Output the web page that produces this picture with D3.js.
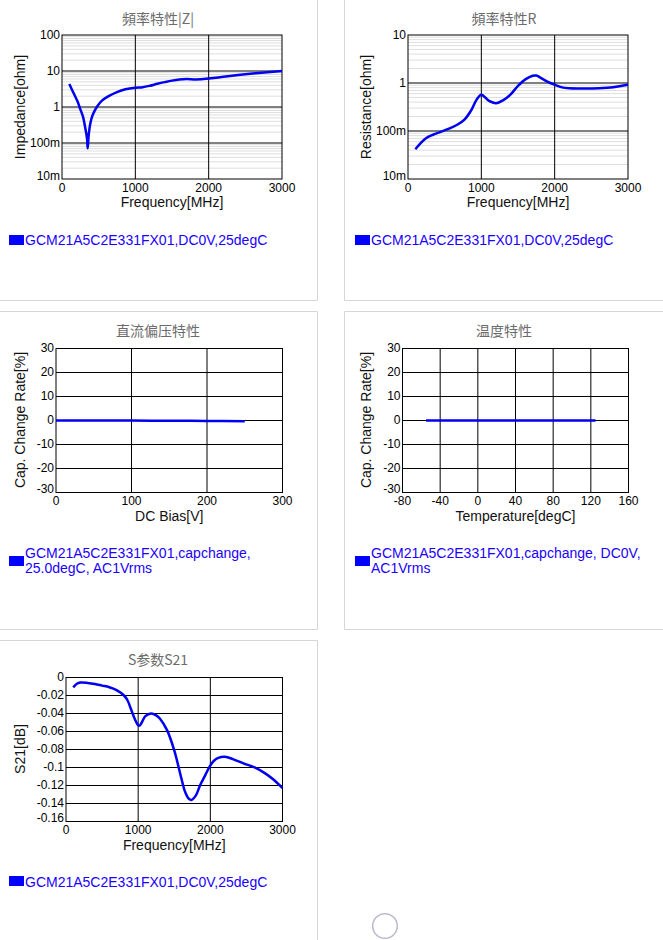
<!DOCTYPE html>
<meta charset="utf-8">
<style>
  html, body { margin: 0; background: #fff; overflow: hidden; }
  text { font-family: "Liberation Sans", Arial, sans-serif; }
  .title { font-family: "Noto Sans CJK SC", "Liberation Sans", sans-serif; font-size: 14px; fill: #6b6b6b; text-anchor: middle; }
  .axis-title { font-size: 14px; fill: #111; text-anchor: middle; }
  .legend { font-size: 14px; fill: #1a00ff; }
  .tick text { font-family: "Liberation Sans", Arial, sans-serif; font-size: 12px; fill: #000; }
</style>
<div id="chart"></div>
<script src="https://d3js.org/d3.v7.min.js"></script>
<script>
// values

var zFreq = [100, 159, 214, 250, 286, 318, 341, 350, 364, 386, 418, 477, 545, 636, 750, 864, 1000, 1100, 1200, 1300, 1400, 1500, 1600, 1700, 1800, 1900, 2000, 2200, 2400, 2600, 2800, 3000];
var zOhm = [4.35, 2.4, 1.4, 0.86, 0.54, 0.257, 0.135, 0.071, 0.166, 0.35, 0.6, 1.02, 1.5, 2.0, 2.6, 3.1, 3.44, 3.55, 3.9, 4.4, 4.9, 5.4, 5.8, 5.95, 5.85, 5.9, 6.2, 6.9, 7.7, 8.5, 9.3, 10];

var rFreq = [100, 182, 250, 341, 455, 568, 682, 773, 864, 932, 1000, 1100, 1200, 1300, 1400, 1500, 1600, 1700, 1750, 1800, 1900, 2000, 2100, 2200, 2400, 2600, 2800, 3000];
var rOhm = [0.0415, 0.058, 0.0715, 0.0835, 0.097, 0.1135, 0.138, 0.175, 0.274, 0.44, 0.57, 0.43, 0.38, 0.44, 0.58, 0.87, 1.19, 1.42, 1.43, 1.31, 1.07, 0.92, 0.81, 0.775, 0.77, 0.78, 0.82, 0.92];

var dcVolt = [0, 50, 100, 150, 200, 250];
var dcRate = [0, -0.02, -0.05, -0.1, -0.2, -0.35];

var tempDeg = [-55, -25, 0, 25, 50, 85, 125];
var tempRate = [-0.05, -0.04, 0, 0, -0.01, -0.03, -0.05];

var sFreq = [100, 150, 200, 300, 400, 500, 600, 700, 800, 850, 900, 950, 1000, 1020, 1050, 1100, 1180, 1250, 1300, 1400, 1500, 1600, 1650, 1700, 1740, 1800, 1860, 1930, 1990, 2050, 2110, 2200, 2320, 2460, 2620, 2760, 2870, 3000];
var sDb = [-0.011, -0.007, -0.0056, -0.006, -0.0072, -0.009, -0.0108, -0.014, -0.0197, -0.025, -0.035, -0.0455, -0.053, -0.0535, -0.05, -0.043, -0.04, -0.042, -0.0455, -0.0585, -0.081, -0.1125, -0.127, -0.1345, -0.136, -0.131, -0.1194, -0.1085, -0.099, -0.0925, -0.0893, -0.088, -0.0909, -0.0954, -0.1002, -0.1065, -0.1131, -0.1228];

var freqTicks = [0, 1000, 2000, 3000];
var zDecades = [0.01, 0.1, 1, 10, 100];
var zLabels = ["10m", "100m", "1", "10", "100"];
var rDecades = [0.01, 0.1, 1, 10];
var rLabels = ["10m", "100m", "1", "10"];
var rateTicks = [-30, -20, -10, 0, 10, 20, 30];
var dcTicks = [0, 100, 200, 300];
var tempTicks = [-80, -40, 0, 40, 80, 120, 160];
var sTicks = [-0.16, -0.14, -0.12, -0.1, -0.08, -0.06, -0.04, -0.02, 0];

var legendFreq = ["GCM21A5C2E331FX01,DC0V,25degC"];
var legendDc = ["GCM21A5C2E331FX01,capchange,", "25.0degC, AC1Vrms"];
var legendTemp = ["GCM21A5C2E331FX01,capchange, DC0V,", "AC1Vrms"];

var svg = d3.select("#chart").append("svg")
  .attr("width", 663)
  .attr("height", 940)
  .style("display", "block");

//----------------panel borders---------------------
var borders = svg.append("g").attr("stroke", "#d6d6d6").attr("fill", "none");
borders.append("path").attr("d", "M0,300.5H317.5V0");
borders.append("path").attr("d", "M344.5,0V300.5H663");
borders.append("path").attr("d", "M0,311.5H317.5V629.5H0");
borders.append("path").attr("d", "M663,311.5H344.5V629.5H663");
borders.append("path").attr("d", "M0,640.5H317.5V940");

//----------------drawing stuff---------------------
function drawChart(c) {
  var xs = d3.scaleLinear().domain(c.xDomain).range([c.left, c.right]);
  var ys = (c.log ? d3.scaleLog() : d3.scaleLinear()).domain(c.yDomain).range([c.bottom, c.top]);
  var g = svg.append("g");
  var h = c.bottom - c.top, w = c.right - c.left;

  // light lines between the decades
  if (c.log) {
    var minor = [];
    c.yTicks.slice(0, -1).forEach(function(d) {
      d3.range(2, 10).forEach(function(m) { minor.push(d * m); });
    });
    g.selectAll(".minor").data(minor).enter().append("line")
      .attr("x1", c.left).attr("x2", c.right)
      .attr("y1", function(d) { return ys(d); })
      .attr("y2", function(d) { return ys(d); })
      .attr("stroke", "#dedede")
      .attr("stroke-width", 1);
  }

  // offset 0 so a line between two pixels goes grey and wide, as in the picture
  var xAxis = g.append("g")
    .attr("transform", "translate(0," + c.bottom + ")")
    .call(d3.axisBottom(xs).offset(0).tickValues(c.xTicks).tickSize(-h).tickPadding(4).tickFormat(String));
  var yAxis = g.append("g")
    .attr("transform", "translate(" + c.left + ",0)")
    .call(d3.axisLeft(ys).offset(0).tickValues(c.yTicks).tickSize(-w).tickPadding(2)
      .tickFormat(function(d, i) { return c.yLabels[i]; }));

  xAxis.select(".domain").remove();
  yAxis.select(".domain").remove();
  xAxis.selectAll("line").attr("stroke", "#000").attr("stroke-width", 1);
  yAxis.selectAll("line").attr("stroke", "#000").attr("stroke-width", 1);
  // frame below draws the outer lines, do not darken them twice
  xAxis.selectAll("line").filter(function(d) { return d == c.xDomain[0] || d == c.xDomain[1]; }).remove();
  yAxis.selectAll("line").filter(function(d) { return d == c.yDomain[0] || d == c.yDomain[1]; }).remove();
  // lowest label sits a little above its line
  yAxis.selectAll("text").attr("dy", function(d, i) { return i == 0 ? "0.08em" : "0.32em"; });

  g.append("rect")
    .attr("x", c.left).attr("y", c.top)
    .attr("width", w).attr("height", h)
    .attr("fill", "none")
    .attr("stroke", "#000")
    .attr("stroke-width", 1);

  var line = d3.line()
    .x(function(d) { return xs(d[0]); })
    .y(function(d) { return ys(d[1]); })
    .curve(d3.curveCatmullRom.alpha(0.5));
  g.append("path")
    .attr("d", line(d3.zip(c.xs, c.ys)))
    .attr("fill", "none")
    .attr("stroke", "#0000f0")
    .attr("stroke-width", 2.5);

  g.append("text").attr("class", "title")
    .attr("x", c.titleX).attr("y", c.titleY).text(c.title);
  g.append("text").attr("class", "axis-title")
    .attr("x", (c.left + c.right) / 2).attr("y", c.titleXY).text(c.xTitle);
  g.append("text").attr("class", "axis-title")
    .attr("transform", "translate(" + (c.panelX + 25) + "," + c.yTitleY + ") rotate(-90)")
    .text(c.yTitle);

  // legend
  g.append("rect")
    .attr("x", c.panelX + 9).attr("y", c.swatchY)
    .attr("width", 15).attr("height", 10)
    .attr("fill", "#0000ff");
  c.legend.forEach(function(t, i) {
    g.append("text").attr("class", "legend")
      .attr("x", c.panelX + 25).attr("y", c.legendY + i * 15).text(t);
  });
}

drawChart({ title: "頻率特性|Z|", titleX: 158, titleY: 24, panelX: 0, left: 62, right: 282, top: 35, bottom: 179,
  xDomain: [0, 3000], yDomain: [0.01, 100], log: true, xTicks: freqTicks, yTicks: zDecades, yLabels: zLabels,
  xs: zFreq, ys: zOhm, xTitle: "Frequency[MHz]", titleXY: 207, yTitle: "Impedance[ohm]", yTitleY: 107, legend: legendFreq, legendY: 245, swatchY: 235 });

drawChart({ title: "頻率特性R", titleX: 504, titleY: 24, panelX: 346, left: 408, right: 628, top: 35, bottom: 179,
  xDomain: [0, 3000], yDomain: [0.01, 10], log: true, xTicks: freqTicks, yTicks: rDecades, yLabels: rLabels,
  xs: rFreq, ys: rOhm, xTitle: "Frequency[MHz]", titleXY: 207, yTitle: "Resistance[ohm]", yTitleY: 107, legend: legendFreq, legendY: 245, swatchY: 235 });

drawChart({ title: "直流偏压特性", titleX: 158, titleY: 336, panelX: 0, left: 56, right: 282.5, top: 348.5, bottom: 492.5,
  xDomain: [0, 300], yDomain: [-30, 30], log: false, xTicks: dcTicks, yTicks: rateTicks, yLabels: rateTicks.map(String),
  xs: dcVolt, ys: dcRate, xTitle: "DC Bias[V]", titleXY: 521, yTitle: "Cap. Change Rate[%]", yTitleY: 420, legend: legendDc, legendY: 558, swatchY: 556 });

drawChart({ title: "温度特性", titleX: 504, titleY: 336, panelX: 346, left: 402.5, right: 628.5, top: 348.5, bottom: 492.5,
  xDomain: [-80, 160], yDomain: [-30, 30], log: false, xTicks: tempTicks, yTicks: rateTicks, yLabels: rateTicks.map(String),
  xs: tempDeg, ys: tempRate, xTitle: "Temperature[degC]", titleXY: 521, yTitle: "Cap. Change Rate[%]", yTitleY: 420, legend: legendTemp, legendY: 558, swatchY: 556 });

drawChart({ title: "S参数S21", titleX: 158, titleY: 665, panelX: 0, left: 66, right: 282.5, top: 677.5, bottom: 821.5,
  xDomain: [0, 3000], yDomain: [-0.16, 0], log: false, xTicks: freqTicks, yTicks: sTicks, yLabels: sTicks.map(String),
  xs: sFreq, ys: sDb, xTitle: "Frequency[MHz]", titleXY: 850, yTitle: "S21[dB]", yTitleY: 749, legend: legendFreq, legendY: 887, swatchY: 876 });

// page loading ring under the charts
svg.append("circle")
  .attr("cx", 385).attr("cy", 926).attr("r", 12.3)
  .attr("fill", "none")
  .attr("stroke", "#b9b9cf")
  .attr("stroke-width", 1.5);
</script>
